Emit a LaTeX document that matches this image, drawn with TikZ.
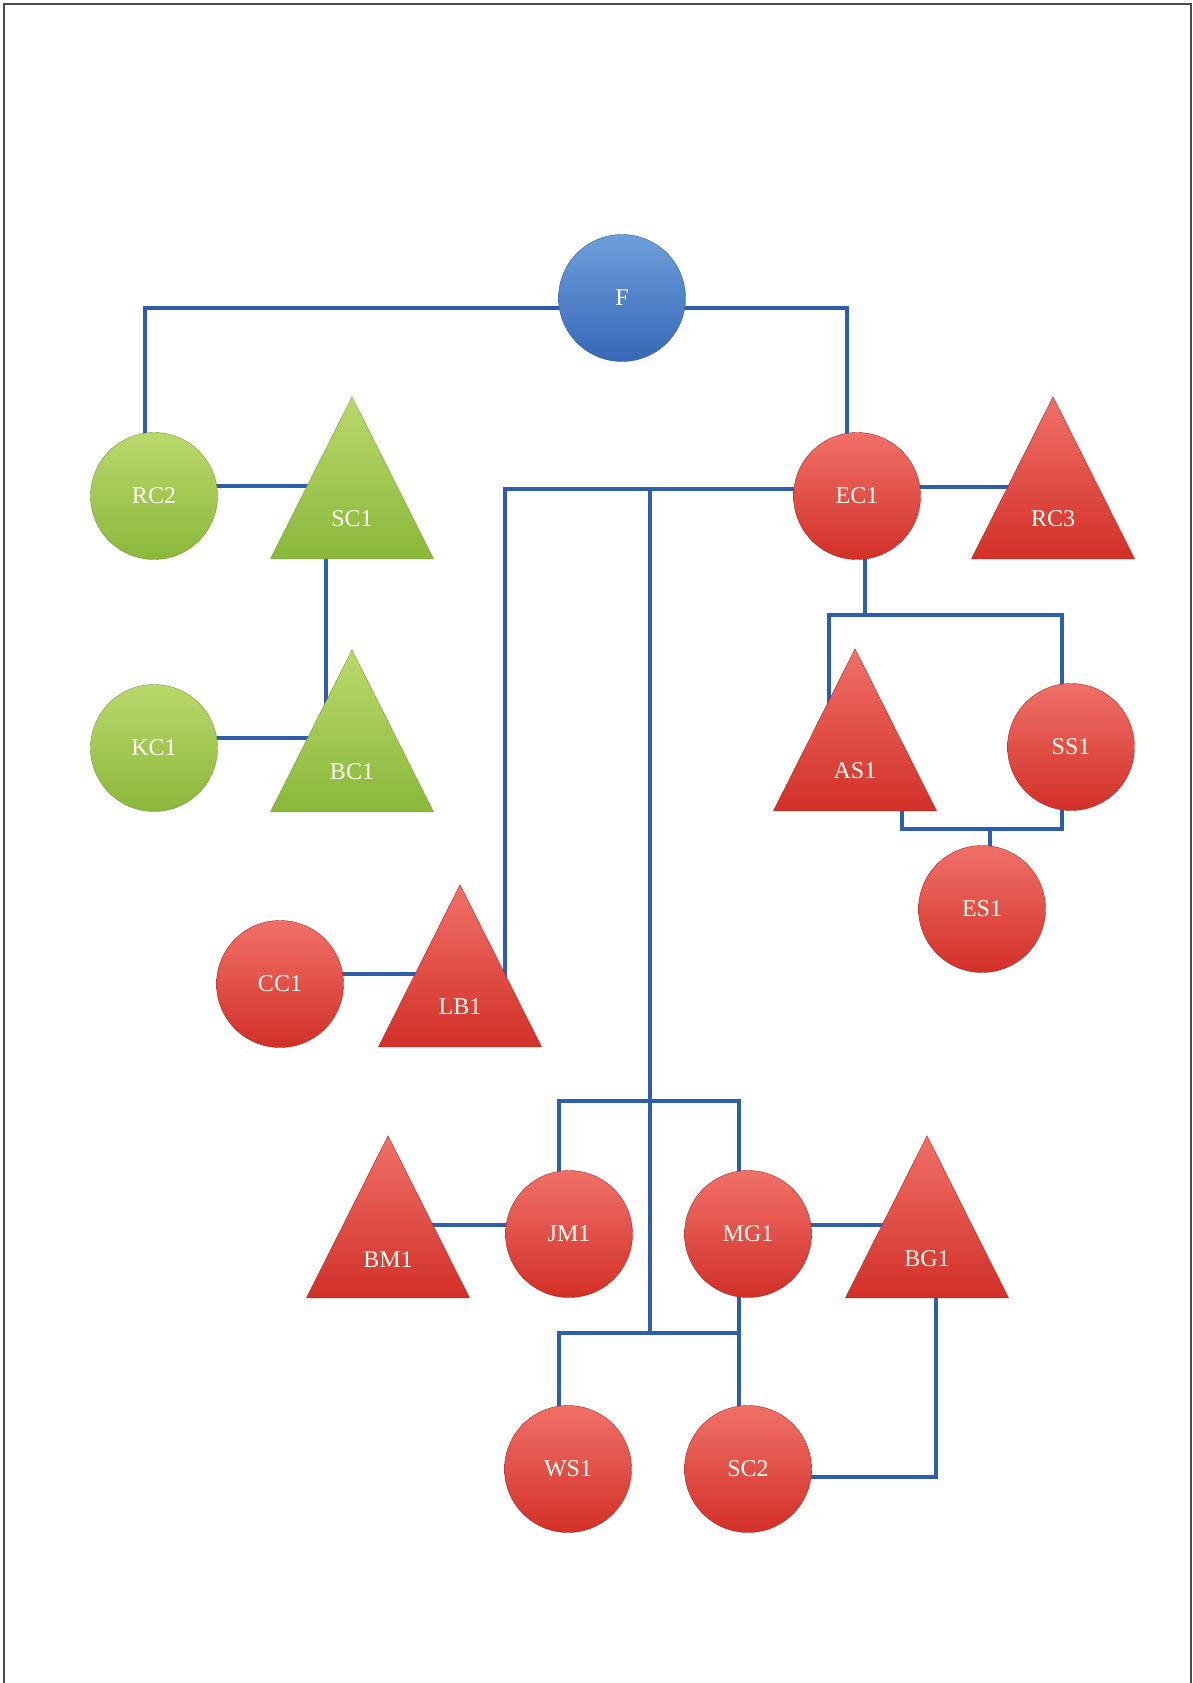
\documentclass[tikz,border=0pt]{standalone}
\usepackage{fontspec}
\setmainfont{Liberation Serif}
\usetikzlibrary{shapes.geometric,calc}
\pgfdeclarelayer{bg}
\pgfsetlayers{bg,main}

\definecolor{linkblue}{RGB}{46,94,170}
\definecolor{greentop}{RGB}{186,216,108}
\definecolor{greenbot}{RGB}{138,184,58}
\definecolor{greenline}{RGB}{122,156,60}
\definecolor{redtop}{RGB}{240,112,104}
\definecolor{redbot}{RGB}{210,48,40}
\definecolor{redline}{RGB}{168,40,34}
\definecolor{bluetop}{RGB}{110,158,218}
\definecolor{bluebot}{RGB}{54,104,184}
\definecolor{blueline}{RGB}{58,94,158}

\begin{document}
\begin{tikzpicture}[x=1pt,y=-1pt,
  every node/.style={text=white!96!yellow, font=\fontsize{24}{28}\selectfont},
  ball/.style={circle, minimum size=127pt, inner sep=0pt},
  tri/.style={isosceles triangle, isosceles triangle stretches,
    shape border rotate=90, minimum width=163pt, minimum height=162pt,
    inner sep=0pt, anchor=lower side},
  greenfill/.style={draw=greenline, top color=greentop, bottom color=greenbot},
  redfill/.style={draw=redline, top color=redtop, bottom color=redbot},
  bluefill/.style={draw=blueline, top color=bluetop, bottom color=bluebot},
  link/.style={draw=linkblue, line width=4.5pt},
  frame/.style={draw=black!70, line width=2pt}]

\useasboundingbox (0,0) rectangle (1192,1683);
% page frame
\draw[frame] (3.5,1683) -- (3.5,4) -- (1190.5,4) -- (1190.5,1683);

% circles
\node[ball, bluefill] (F) at (622,298) {F};
\node[ball, greenfill] (RC2) at (154,496) {RC2};
\node[ball, greenfill] (KC1) at (154,748) {KC1};
\node[ball, redfill] (EC1) at (857,496) {EC1};
\node[ball, redfill] (SS1) at (1071,747) {SS1};
\node[ball, redfill] (ES1) at (982,909) {ES1};
\node[ball, redfill] (CC1) at (280,984) {CC1};
\node[ball, redfill] (JM1) at (569,1234) {JM1};
\node[ball, redfill] (MG1) at (748,1234) {MG1};
\node[ball, redfill] (WS1) at (568,1469) {WS1};
\node[ball, redfill] (SC2) at (748,1469) {SC2};

% triangles, placed by the middle of the base
\node[tri, greenfill] (SC1) at (352,559) {SC1};
\node[tri, greenfill] (BC1) at (352,812) {BC1};
\node[tri, redfill] (RC3) at (1053,559) {RC3};
\node[tri, redfill] (AS1) at (855,811) {AS1};
\node[tri, redfill] (LB1) at (460,1047) {LB1};
\node[tri, redfill] (BM1) at (388,1298) {BM1};
\node[tri, redfill] (BG1) at (927,1298) {BG1};

% junctions
\coordinate (top) at (650,489);
\coordinate (mid) at (650,1101);
\coordinate (low) at (650,1333);
\coordinate (split) at ($(EC1.center)+(8,119)$);
\coordinate (join) at ($(ES1.center)+(8,-80)$);

% connectors behind the shapes
\begin{pgfonlayer}{bg}
\draw[link] ($(F.center)+(0,10)$) -| ($(RC2.center)+(-9,0)$);
\draw[link] ($(F.center)+(0,10)$) -| ($(EC1.center)+(-10,0)$);
\draw[link] ($(RC2.center)+(0,-10)$) -- ($(SC1.lower side |- RC2.center)+(0,-10)$);
\draw[link] ($(SC1.lower side)+(-26,0)$) -- ($(BC1.lower side)+(-26,0)$);
\draw[link] ($(KC1.center)+(0,-10)$) -- ($(BC1.lower side |- KC1.center)+(0,-10)$);
\draw[link] ($(EC1.center)+(0,-9)$) -- ($(RC3.lower side |- EC1.center)+(0,-9)$);
\draw[link] ($(EC1.center)+(0,-7)$) -| ($(LB1.lower side)+(45,-40)$);
\draw[link] ($(CC1.center)+(0,-10)$) -- ($(LB1.lower side |- CC1.center)+(0,-10)$);
\draw[link] (top) -- (low);
\draw[link] ($(JM1.center)+(-10,0)$) |- (mid) -| ($(MG1.center)+(-9,0)$);
\draw[link] ($(WS1.center)+(-9,0)$) |- (low) -| ($(SC2.center)+(-9,0)$);
\draw[link] ($(MG1.center)+(-9,0)$) -- ($(SC2.center)+(-9,0)$);
\draw[link] ($(JM1.center)+(0,-9)$) -- ($(BM1.lower side |- JM1.center)+(0,-9)$);
\draw[link] ($(MG1.center)+(0,-9)$) -- ($(BG1.lower side |- MG1.center)+(0,-9)$);
\draw[link] ($(BG1.lower side)+(9,0)$) |- ($(SC2.center)+(0,8)$);
\draw[link] (EC1.center -| split) -- (split);
\draw[link] ($(AS1.lower side)+(-26,-60)$) |- (split) -| ($(SS1.center)+(-9,0)$);
\draw[link] ($(AS1.lower side)+(47,-20)$) |- (join) -| ($(SS1.center)+(-9,0)$);
\draw[link] (join) -- (join |- ES1.center);
\end{pgfonlayer}
\end{tikzpicture}
\end{document}
